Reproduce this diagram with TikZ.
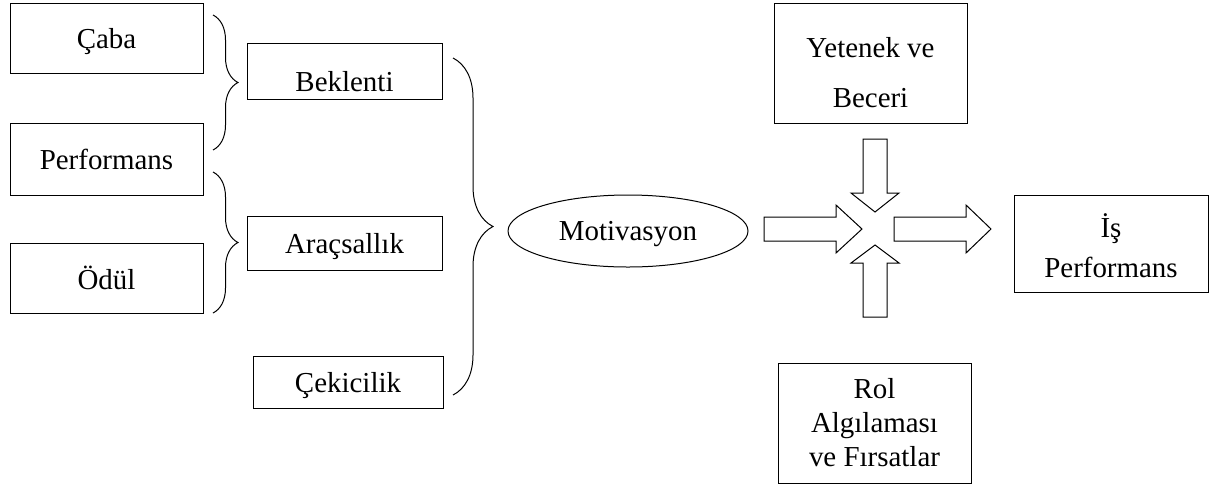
\documentclass[tikz,border=0pt]{standalone}
\usepackage{fontspec}
\setmainfont{Liberation Serif}
\usetikzlibrary{shapes.geometric,decorations.pathreplacing}

\tikzset{every picture/.style={line width=0.75pt}}
\tikzset{
  kutu/.style={draw, rectangle, inner sep=0pt, align=center,
    font=\fontsize{21.7}{26}\selectfont},
  tek/.style={kutu, text depth=0pt},
  kume/.style={decorate, decoration={brace, amplitude=#1}},
  blokok/.style={draw, fill=white}
}

\begin{document}
\begin{tikzpicture}[x=0.75pt,y=0.75pt,yscale=-1,xscale=1]
\useasboundingbox (0,0) rectangle (1216,486);

% Sol kutular
\node [tek, minimum width=144.75pt, minimum height=52.5pt] (caba) at (106.5,38.5) {Çaba};
\node [tek, minimum width=144.75pt, minimum height=54pt] (perf) at (106.5,159) {Performans};
\node [tek, minimum width=144.75pt, minimum height=52.5pt] (odul) at (106.5,278) {Ödül};

% Orta kutular
\node [tek, text height=31pt, minimum width=146.25pt, minimum height=42pt] (beklenti) at (344.5,71) {Beklenti};
\node [tek, minimum width=146.25pt, minimum height=40.5pt] (aracsal) at (344.5,243) {Araçsallık};
\node [tek, minimum width=142.5pt, minimum height=39pt] (cekici) at (348,382) {Çekicilik};

% Motivasyon
\node [tek, ellipse, minimum width=180pt, minimum height=54pt] (motiv) at (628,231) {Motivasyon};

% Sag kutular
\node [kutu, minimum width=144.75pt, minimum height=90pt, font=\fontsize{21.7}{37.5}\selectfont] (yetenek) at (870.5,63) {\rule{0pt}{29pt}Yetenek ve\\Beceri};
\node [kutu, minimum width=144.75pt, minimum height=90pt, font=\fontsize{21.7}{25.5}\selectfont] (rol) at (874.5,423) {Rol\\Algılaması\\ve Fırsatlar};
\node [kutu, minimum width=145.5pt, minimum height=72.75pt, font=\fontsize{21.7}{30}\selectfont] (is) at (1111,243.5) {\rule{0pt}{21pt}İş\\Performans};

% Parantezler
\draw [kume=18.75pt] (213,15) -- (213,150);
\draw [kume=18.75pt] (213,172) -- (213,313);
\draw [kume=30pt] (453,58) -- (453,395);

% Blok oklar
\draw [blokok] (764,217) -- (836,217) -- (836,205) -- (862,229) -- (836,253) -- (836,241) -- (764,241) -- cycle;
\draw [blokok] (894,217) -- (966,217) -- (966,205) -- (991,229) -- (966,253) -- (966,241) -- (894,241) -- cycle;
\draw [blokok] (863,139) -- (887,139) -- (887,193) -- (899,193) -- (875,212) -- (851,193) -- (863,193) -- cycle;
\draw [blokok] (863,317) -- (887,317) -- (887,263) -- (899,263) -- (875,245) -- (851,263) -- (863,263) -- cycle;

\end{tikzpicture}
\end{document}
